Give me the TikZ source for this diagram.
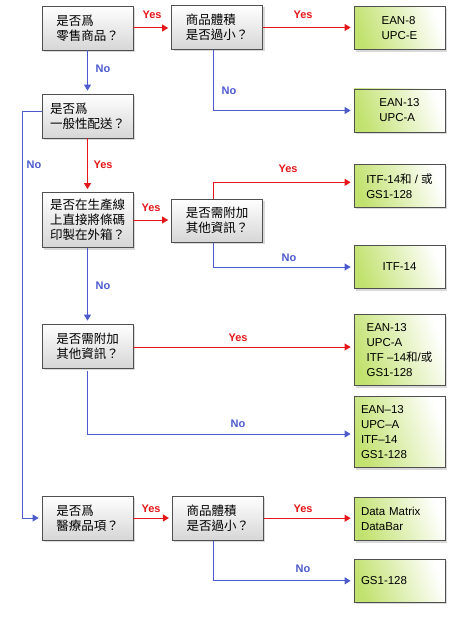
\documentclass[tikz,border=0pt]{standalone}
\usepackage{fontspec}
\setmainfont{Liberation Sans}
\newfontfamily\cjk{Noto Sans CJK TC}
\usepackage{tikz}
\usetikzlibrary{arrows.meta,shadows,calc}
\definecolor{QBot}    {RGB}{214,214,214}
\definecolor{ResGreen}{RGB}{194,226,112}
\definecolor{YesRed}  {RGB}{228,22,26}
\definecolor{NoBlue}  {RGB}{76,90,206}
\definecolor{BoxLine} {RGB}{80,80,80}

\begin{document}
\begin{tikzpicture}[x=1pt,y=-1pt,
  every node/.style={inner sep=0pt},
  qbox/.style={draw=BoxLine,line width=0.8pt,top color=white,bottom color=QBot,
    minimum width=91pt,minimum height=44pt,align=left,
    font=\cjk\fontsize{12.5}{15}\selectfont,
    drop shadow={shadow xshift=2pt,shadow yshift=-2pt,opacity=0.3}},
  resbox/.style={draw=BoxLine,line width=0.8pt,left color=ResGreen,
    middle color=ResGreen!55!white,right color=white,
    shading angle=110,minimum width=91pt,minimum height=43pt,align=left,
    font=\fontsize{11.5}{15}\selectfont,
    drop shadow={shadow xshift=2pt,shadow yshift=-2pt,opacity=0.3}},
  resleft/.style={resbox,text width=77pt},
  yesline/.style={draw=YesRed,line width=1pt,shorten >=3pt,-{Triangle[length=6pt,width=7pt]}},
  noline/.style={draw=NoBlue,line width=1pt,shorten >=3pt,-{Triangle[length=6pt,width=7pt]}},
  yeslbl/.style={text=YesRed,font=\bfseries\fontsize{11}{12}\selectfont},
  nolbl/.style={text=NoBlue,font=\bfseries\fontsize{11}{12}\selectfont}]
\useasboundingbox (0,0) rectangle (454,620);

% questions
\node[qbox] (q1) at (87.5,28) {是否爲\\零售商品？};
\node[qbox] (q2) at (217,27.5) {商品體積\\是否過小？};
\node[qbox] (q3) at (87.5,116) {是否爲\\一般性配送？};
\node[qbox,minimum height=55pt] (q4) at (87.5,220) {是否在生產線\\上直接將條碼\\印製在外箱？};
\node[qbox,minimum height=43pt] (q5) at (217,220.7) {是否需附加\\其他資訊？};
\node[qbox] (q6) at (87.5,346) {是否需附加\\其他資訊？};
\node[qbox] (q7) at (87.5,518) {是否爲\\醫療品項？};
\node[qbox] (q8) at (217.8,518.2) {商品體積\\是否過小？};

% results
\node[resbox] (r1) at (399.5,28.3) {EAN-8\\UPC-E};
\node[resbox] (r2) at (399.5,110.5) {EAN-13\\UPC-A};
\node[resbox] (r3) at (399.5,185.8) {ITF-14{\cjk 和} / {\cjk 或}\\GS1-128};
\node[resbox] (r4) at (399.5,267) {ITF-14};
\node[resbox,minimum height=71pt] (r5) at (399.5,350) {EAN-13\\UPC-A\\ITF –14{\cjk 和}/{\cjk 或}\\GS1-128};
\node[resleft,minimum height=71pt] (r6) at (399.5,432) {EAN–13\\UPC–A\\ITF–14\\GS1-128};
\node[resleft] (r7) at (399.5,519) {Data Matrix\\DataBar};
\node[resleft] (r8) at (399.5,580.8) {GS1-128};

% connectors
\coordinate (lft) at (22,112);
\draw[yesline] (q1.east) -- (q1.east -| q2.west);
\draw[yesline] (q2.east) -- (q2.east -| r1.west);
\draw[noline] (q1.south) -- (q3.north);
\draw[noline] ([xshift=-4pt]q2.south) |- (r2.west);
\draw[noline] ([yshift=4pt]q3.west) -- (lft) |- (q7.west);
\draw[yesline] (q3.south) -- (q4.north);
\draw[yesline] (q4.east) -- (q4.east -| q5.west);
\draw[yesline] ([xshift=-4pt]q5.north) |- ([yshift=3.5pt]r3.west);
\draw[noline] ([xshift=-4pt]q5.south) |- (r4.west);
\draw[noline] (q4.south) -- (q6.north);
\draw[yesline] ([yshift=-1pt]q6.east) -- ([yshift=-1pt]q6.east -| r5.west);
\draw[noline] ([yshift=-3pt]q6.south) |- ([yshift=-2pt]r6.west);
\draw[yesline] (q7.east) -- (q7.east -| q8.west);
\draw[yesline] (q8.east) -- (q8.east -| r7.west);
\draw[noline] ([xshift=-4.5pt]q8.south) |- (r8.west);

% labels
\node[yeslbl] (y1) at (152,15) {Yes};
\node[yeslbl] (y2) at (303,15) {Yes};
\node[nolbl] (n1) at (103,69) {No};
\node[nolbl] (n2) at (229,91) {No};
\node[nolbl] (n3) at (34,165) {No};
\node[yeslbl] (y3) at (103,165) {Yes};
\node[yeslbl] (y4) at (151,208) {Yes};
\node[yeslbl] (y5) at (288,169) {Yes};
\node[nolbl] (n4) at (289,258) {No};
\node[nolbl] (n5) at (103,286) {No};
\node[yeslbl] (y6) at (238,338) {Yes};
\node[nolbl] (n6) at (238,424) {No};
\node[yeslbl] (y7) at (151,509) {Yes};
\node[yeslbl] (y8) at (303,509) {Yes};
\node[nolbl] (n7) at (303,569) {No};
\end{tikzpicture}
\end{document}
